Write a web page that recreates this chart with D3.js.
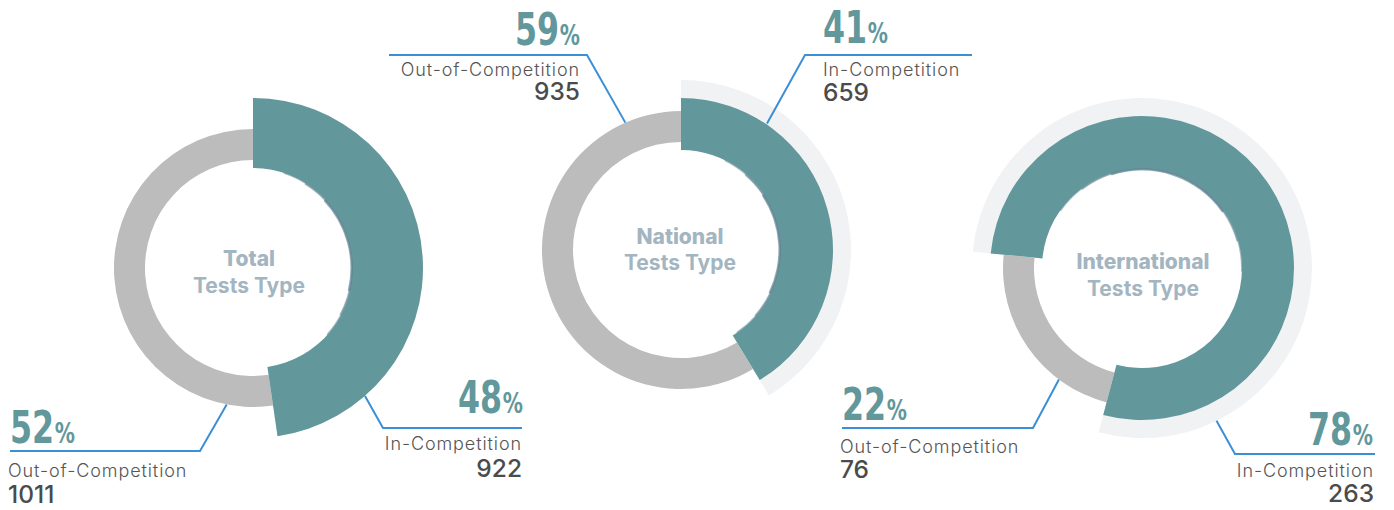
<!DOCTYPE html>
<html><head><meta charset="utf-8">
<script src="https://cdn.jsdelivr.net/npm/d3@7"></script>
<style>
html,body{margin:0;padding:0;background:#fff;}
svg{display:block;}
.pct{font-family:"Liberation Sans Narrow","Arial Narrow","DejaVu Sans Condensed",sans-serif;font-weight:700;fill:#62979c;}
.lbl{font-family:Inter,"Noto Sans",sans-serif;font-weight:300;fill:#555;font-size:18px;letter-spacing:0.9px;}
.val{font-family:Inter,"Noto Sans",sans-serif;font-weight:500;fill:#4b4b4b;font-size:24.5px;}
.title{font-family:Inter,"Noto Sans",sans-serif;fill:#a3b5c1;font-size:21px;text-anchor:middle;}
</style>
</head><body><svg id="chart" width="1394" height="510"></svg>
<script>
// ---- data ----
const donutNames = ["Total", "National", "International"];
const titleSecondLine = "Tests Type";
const segmentNames = ["In-Competition", "Out-of-Competition"];
const inCompetitionTests = [922, 659, 263];
const outOfCompetitionTests = [1011, 935, 76];
const inCompetitionPct = [48, 41, 78];
const outOfCompetitionPct = [52, 59, 22];

// ---- layout (positions / styling only) ----
const layout = [
  {cx:253, cy:268, rot:0, tealOuter:170, halo:false, shadow:[18,132], title:{x:249, y1:266, y2:293},
   in:{aDeg:138.8, aR:170, elbow:[383,428], endX:522, anchor:"end", pct:[523,413], lbl:[522,450], val:[522,477]},
   out:{aDeg:190.9, aR:139, elbow:[200,451], endX:10, anchor:"start", pct:[10,443], lbl:[8,477], val:[8,503]}},
  {cx:681, cy:250, rot:0, tealOuter:152, halo:true, shadow:[26,146], title:{x:680, y1:244, y2:270},
   in:{aDeg:34.2, aR:153, elbow:[805,55], endX:972, anchor:"start", pct:[823,43], lbl:[823,76], val:[823,101]},
   out:{aDeg:336.4, aR:139, elbow:[587,55], endX:389, anchor:"end", pct:[580,45], lbl:[580,76], val:[580,100]}},
  {cx:1142, cy:268, rot:-84.5, tealOuter:152, halo:true, shadow:[-55,92], title:{x:1143, y1:269, y2:296},
   in:{aDeg:154, aR:170, elbow:[1235,454], endX:1375, anchor:"end", pct:[1373,445], lbl:[1374,477], val:[1374,502]},
   out:{aDeg:216.7, aR:139, elbow:[1033,428], endX:842, anchor:"start", pct:[842,420], lbl:[840,453], val:[840,478]}}
];

const colors = {in:"#62979c", out:"#bcbcbc", halo:"#f1f2f4", shadow:"#54798a", line:"#3a8fd6"};
const rad = d => d * Math.PI / 180;

const svg = d3.select("#chart");
svg.append("rect").attr("width",1394).attr("height",510).attr("fill","#fff");

donutNames.forEach((name, i) => {
  const L = layout[i];
  const g = svg.append("g").attr("transform", `translate(${L.cx},${L.cy})`);
  const pie = d3.pie().sort(null).startAngle(rad(L.rot)).endAngle(rad(L.rot) + 2*Math.PI);
  const slices = pie([inCompetitionTests[i], outOfCompetitionTests[i]]);
  const tealArc = d3.arc().innerRadius(100).outerRadius(L.tealOuter);
  const greyArc = d3.arc().innerRadius(108).outerRadius(139);
  const haloArc = d3.arc().innerRadius(L.tealOuter - 1).outerRadius(170);

  if (L.halo) g.append("path").attr("d", haloArc(slices[0])).attr("fill", colors.halo);
  g.append("path").attr("d", greyArc(slices[1])).attr("fill", colors.out);
  // soft inner shadow band (tapered by stacking)
  const span = L.shadow[1] - L.shadow[0];
  [[0, 0.5], [0.12, 0.5], [0.25, 0.6]].forEach(([trim, op], k) => {
    g.append("path")
      .attr("d", d3.arc().innerRadius(100 - 1 - k*0.8).outerRadius(100.5)({
        startAngle: rad(L.shadow[0] + span*trim), endAngle: rad(L.shadow[1] - span*trim)}))
      .attr("fill", colors.shadow).attr("opacity", op);
  });
  g.append("path").attr("d", tealArc(slices[0])).attr("fill", colors.in);

  // titles
  svg.append("text").attr("class","title").attr("x",L.title.x).attr("y",L.title.y1)
     .attr("font-weight",800).text(name);
  svg.append("text").attr("class","title").attr("x",L.title.x).attr("y",L.title.y2)
     .attr("font-weight",700).text(titleSecondLine);

  // annotations
  const entries = [
    {key:"in", pct:inCompetitionPct[i], name:segmentNames[0], val:inCompetitionTests[i]},
    {key:"out", pct:outOfCompetitionPct[i], name:segmentNames[1], val:outOfCompetitionTests[i]}
  ];
  entries.forEach(e => {
    const A = L[e.key];
    const ax = L.cx + A.aR * Math.sin(rad(A.aDeg));
    const ay = L.cy - A.aR * Math.cos(rad(A.aDeg));
    svg.append("path")
      .attr("d", d3.line()([[ax,ay], A.elbow, [A.endX, A.elbow[1]]]))
      .attr("fill","none").attr("stroke",colors.line).attr("stroke-width",2);
    const t = svg.append("text").attr("class","pct")
      .attr("transform", `translate(${A.pct[0]},${A.pct[1]}) scale(0.8,1)`)
      .attr("text-anchor",A.anchor);
    t.append("tspan").attr("font-size",44).text(e.pct);
    t.append("tspan").attr("font-size",28).attr("dx",1).text("%");
    svg.append("text").attr("class","lbl").attr("x",A.lbl[0]).attr("y",A.lbl[1])
      .attr("text-anchor",A.anchor).text(e.name);
    svg.append("text").attr("class","val").attr("x",A.val[0]).attr("y",A.val[1])
      .attr("text-anchor",A.anchor).text(e.val);
  });
});
</script>
</body></html>
